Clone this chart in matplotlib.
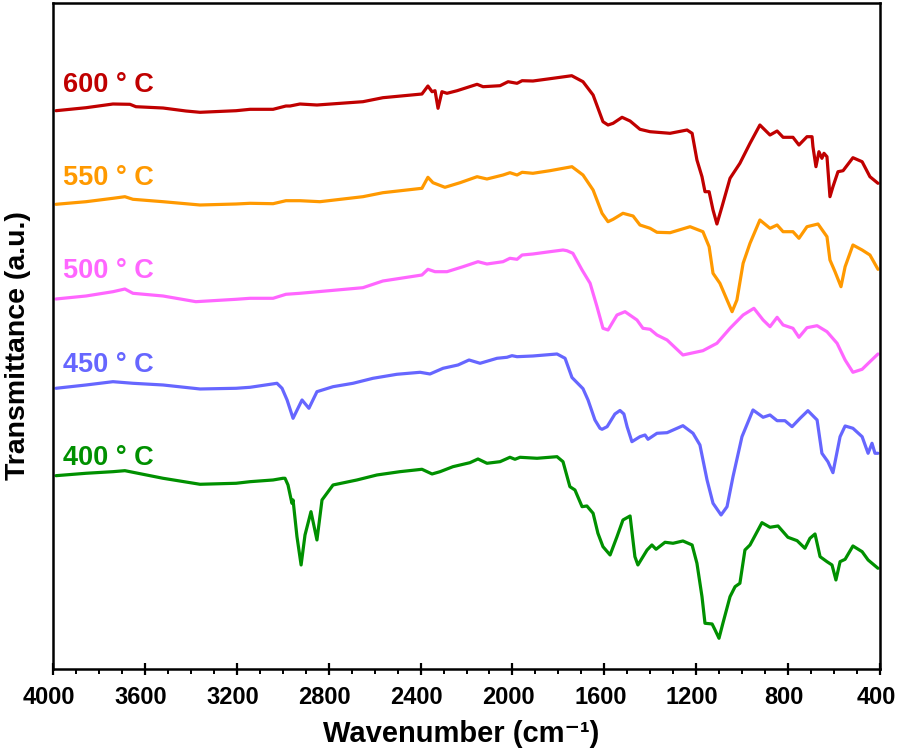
import matplotlib.pyplot as plt
from matplotlib.ticker import MultipleLocator
from matplotlib.transforms import ScaledTranslation

# Wavenumber (cm-1) and transmittance (a.u., curves already offset) per sample
wn_600 = [3987, 3856, 3739, 3665, 3639, 3521, 3421, 3360, 3203, 3142, 3042, 2986, 2968, 2925, 2851,
          2651, 2564, 2394, 2368, 2350, 2337, 2324, 2307, 2285, 2241, 2154, 2128, 2054, 2019, 1980,
          1958, 1911, 1837, 1742, 1693, 1649, 1606, 1584, 1562, 1523, 1488, 1445, 1401, 1314, 1240,
          1218, 1197, 1175, 1162, 1144, 1127, 1110, 1088, 1053, 1010, 966, 923, 879, 848, 822, 779,
          753, 718, 696, 692, 679, 666, 653, 644, 631, 618, 605, 583, 561, 518, 478, 444, 409]
t_600 = [589.3, 592.3, 596, 595.7, 593.3, 592, 589, 587.7, 589.3, 590.7, 590.7, 594, 594, 596, 595,
         598.3, 602.3, 606, 614, 608.3, 609.3, 591.7, 608.3, 606.7, 609.3, 615.7, 613.3, 614.3, 618.3, 616.7,
         619.3, 619, 621.3, 624.3, 618.3, 605, 578.3, 575, 576.7, 582.7, 579, 570.7, 568.3, 566.7, 570,
         566.7, 540, 523.3, 508.3, 508.3, 490, 476, 493.3, 521.7, 536.7, 556.7, 575, 565, 569, 562.7, 562.7,
         555, 563.3, 563.3, 553.3, 533.3, 548.3, 541.7, 546.7, 543.3, 503.3, 513.3, 528.3, 529.3, 542.3, 538.3, 523.3, 516.7]

wn_550 = [3987, 3856, 3739, 3687, 3652, 3521, 3360, 3203, 3142, 3042, 2986, 2925, 2838, 2651, 2564,
          2394, 2368, 2346, 2294, 2228, 2154, 2111, 2041, 2011, 1980, 1958, 1911, 1837, 1741, 1693,
          1649, 1610, 1584, 1562, 1519, 1475, 1445, 1401, 1371, 1314, 1227, 1171, 1144, 1127, 1097,
          1066, 1044, 1023, 996, 966, 923, 879, 848, 822, 779, 753, 718, 670, 631, 618, 596, 570,
          552, 518, 478, 444, 409]
t_550 = [495.7, 498.3, 501.7, 503.3, 500.7, 498.3, 495, 496, 496.7, 496.3, 499.3, 499.3, 498.3, 503.3, 507.3,
         511.7, 522.7, 517.3, 512.7, 517.3, 523.3, 521, 525, 527.3, 525, 527.7, 526.7, 529.3, 533.3, 525,
         510, 486.7, 478.3, 480.7, 486.7, 484, 475, 471.7, 467.7, 467.3, 473.3, 468.3, 453.3, 426.7, 416.7,
         400, 388.3, 400, 436.7, 456.7, 480, 471.7, 475, 468.3, 468.3, 461.7, 473.3, 476, 463.3, 440, 428.3, 413.3,
         433.3, 455, 450, 445, 430.7]

wn_500 = [3987, 3856, 3739, 3687, 3652, 3521, 3378, 3203, 3142, 3042, 2986, 2925, 2651, 2564, 2394,
          2368, 2337, 2285, 2215, 2150, 2111, 2041, 2011, 1980, 1958, 1911, 1837, 1780, 1763, 1737,
          1697, 1662, 1632, 1606, 1584, 1545, 1510, 1458, 1432, 1401, 1371, 1327, 1258, 1171, 1110,
          1053, 996, 949, 909, 879, 848, 822, 779, 753, 718, 674, 631, 587, 552, 518, 478, 444, 409]
t_500 = [401, 404, 408.3, 411, 406.7, 404, 398.3, 400.7, 401.7, 401.7, 405.7, 406.7, 412.3, 419, 425,
         430.7, 428.3, 428.3, 433.3, 438.3, 436, 438.3, 441.7, 440.7, 445, 446, 448.3, 450, 449.3, 446.7,
         430, 416.7, 393.3, 371.7, 370, 385, 388.3, 380, 371.7, 370.7, 365, 360, 345, 349.3, 356.7,
         371.7, 385, 391.7, 380, 373.3, 382.7, 375, 371.7, 362.7, 372.3, 374.3, 368.3, 356.7, 340, 327.7, 330.7, 338.3, 346]

wn_450 = [3987, 3856, 3739, 3652, 3521, 3360, 3203, 3142, 3025, 3003, 2981, 2955, 2916, 2886, 2851,
          2781, 2694, 2607, 2503, 2402, 2359, 2302, 2237, 2189, 2141, 2067, 2024, 2002, 1980, 1911,
          1806, 1771, 1741, 1693, 1671, 1641, 1619, 1610, 1588, 1554, 1532, 1515, 1501, 1480, 1445, 1423,
          1410, 1371, 1327, 1258, 1214, 1184, 1153, 1127, 1092, 1066, 1040, 1001, 953, 909, 879, 848,
          814, 783, 748, 714, 674, 653, 627, 605, 574, 552, 518, 478, 452, 435, 422, 409]
t_450 = [311.7, 315, 318.3, 316.7, 315, 311, 311.7, 312.7, 316.7, 311.7, 300, 281.7, 300, 291.7, 308.3,
         313.3, 316.7, 321.7, 325.7, 327.7, 326, 331.7, 335, 340, 336.7, 341.7, 342.7, 344.3, 343.3, 344,
         346, 341.7, 322.5, 311.3, 300, 280, 271.7, 270.7, 273.3, 286, 289.5, 286, 273.3, 258.3, 263.3, 265,
         260.7, 266.7, 267.3, 274.3, 266.7, 255, 220, 196.7, 185, 193.3, 223.3, 263.3, 290, 282.7, 285, 279.3,
         279.3, 273.3, 281.7, 289.3, 280, 246.7, 238.3, 227.3, 263.3, 274, 271.7, 263.3, 246.7, 256.7, 246.7, 246.7]

wn_400 = [3987, 3856, 3739, 3687, 3652, 3521, 3360, 3203, 3142, 3042, 2999, 2990, 2977, 2960, 2955,
          2938, 2920, 2903, 2877, 2851, 2829, 2781, 2677, 2590, 2490, 2394, 2350, 2315, 2259, 2185,
          2150, 2111, 2054, 2011, 1989, 1967, 1893, 1806, 1780, 1750, 1728, 1697, 1676, 1649, 1628,
          1606, 1575, 1545, 1519, 1488, 1467, 1454, 1414, 1393, 1375, 1336, 1301, 1258, 1218, 1197,
          1175, 1162, 1131, 1118, 1101, 1084, 1053, 1031, 1010, 988, 966, 914, 879, 844, 801, 761,
          727, 705, 683, 661, 631, 609, 592, 574, 552, 518, 478, 452, 409]
t_400 = [224.3, 226.7, 228.3, 229.3, 227.7, 221.7, 215.7, 216.7, 218.3, 220, 221.7, 221.7, 215, 196.7, 200,
         163.3, 135, 165, 188.3, 160, 200, 215, 220, 225, 228.3, 230.7, 226, 228.3, 233.3, 237.3,
         241, 236.7, 238.3, 242.7, 240.7, 242.7, 241.7, 243.3, 238.3, 213.3, 210, 193.3, 194, 186.7, 166.7,
         153.3, 145, 163.3, 180, 184, 143.3, 135, 150, 155, 150.7, 157.7, 156.7, 159, 155, 136.7,
         103.3, 76.7, 76, 70, 61.7, 76.7, 103.3, 113.3, 116.7, 150, 155, 177.3, 172.7, 174, 162.7, 159.3,
         151.7, 161.7, 166, 143.3, 138.3, 135, 120, 138.3, 140.7, 154, 148.3, 140, 131.7]

labels = ["600 ° C", "550 ° C", "500 ° C", "450 ° C", "400 ° C"]
colors = ["#C00000", "#FF9900", "#FF66FF", "#6666FF", "#009000"]
series = [(wn_600, t_600), (wn_550, t_550), (wn_500, t_500), (wn_450, t_450), (wn_400, t_400)]
label_y = [608, 515, 422, 328, 235]

fonts = ["Liberation Sans", "DejaVu Sans"]

fig = plt.figure(figsize=(8.98, 7.53), dpi=100)
ax = fig.add_axes([0.059, 0.1116, 0.921, 0.8844])

for (wn, t), c, lab, ly in zip(series, colors, labels, label_y):
    ax.plot(wn, t, color=c, lw=2.3, solid_joinstyle="round", solid_capstyle="round")
    ax.text(3956, ly, lab, color=c, fontsize=19.5, fontweight="bold", family=fonts)

ax.set_xlim(4000, 400)
ax.set_ylim(31, 697)
ax.set_yticks([])
ax.xaxis.set_major_locator(MultipleLocator(400))
ax.xaxis.set_minor_locator(MultipleLocator(100))
ax.tick_params(axis="x", which="major", direction="inout", length=9, width=1.6, pad=8)
ax.tick_params(axis="x", which="minor", direction="out", length=3.5, width=1.4)
for s in ax.spines.values():
    s.set_linewidth(1.8)

# tick labels sit a few pixels left of their ticks in the original
shift = ScaledTranslation(-4 / 100, 0, fig.dpi_scale_trans)
for tick in ax.xaxis.get_major_ticks():
    lbl = tick.label1
    lbl.set_family(fonts)
    lbl.set_fontweight("bold")
    lbl.set_fontsize(17)
    lbl.set_transform(lbl.get_transform() + shift)

ax.set_xlabel("Wavenumber (cm⁻¹)", fontsize=21, fontweight="bold", family=fonts)
ax.xaxis.set_label_coords(0.493, -0.077)
ax.set_ylabel("Transmittance (a.u.)", fontsize=20.5, fontweight="bold", family=fonts)
ax.yaxis.set_label_coords(-0.027, 0.486)

fig.savefig("out.png", dpi=100)
